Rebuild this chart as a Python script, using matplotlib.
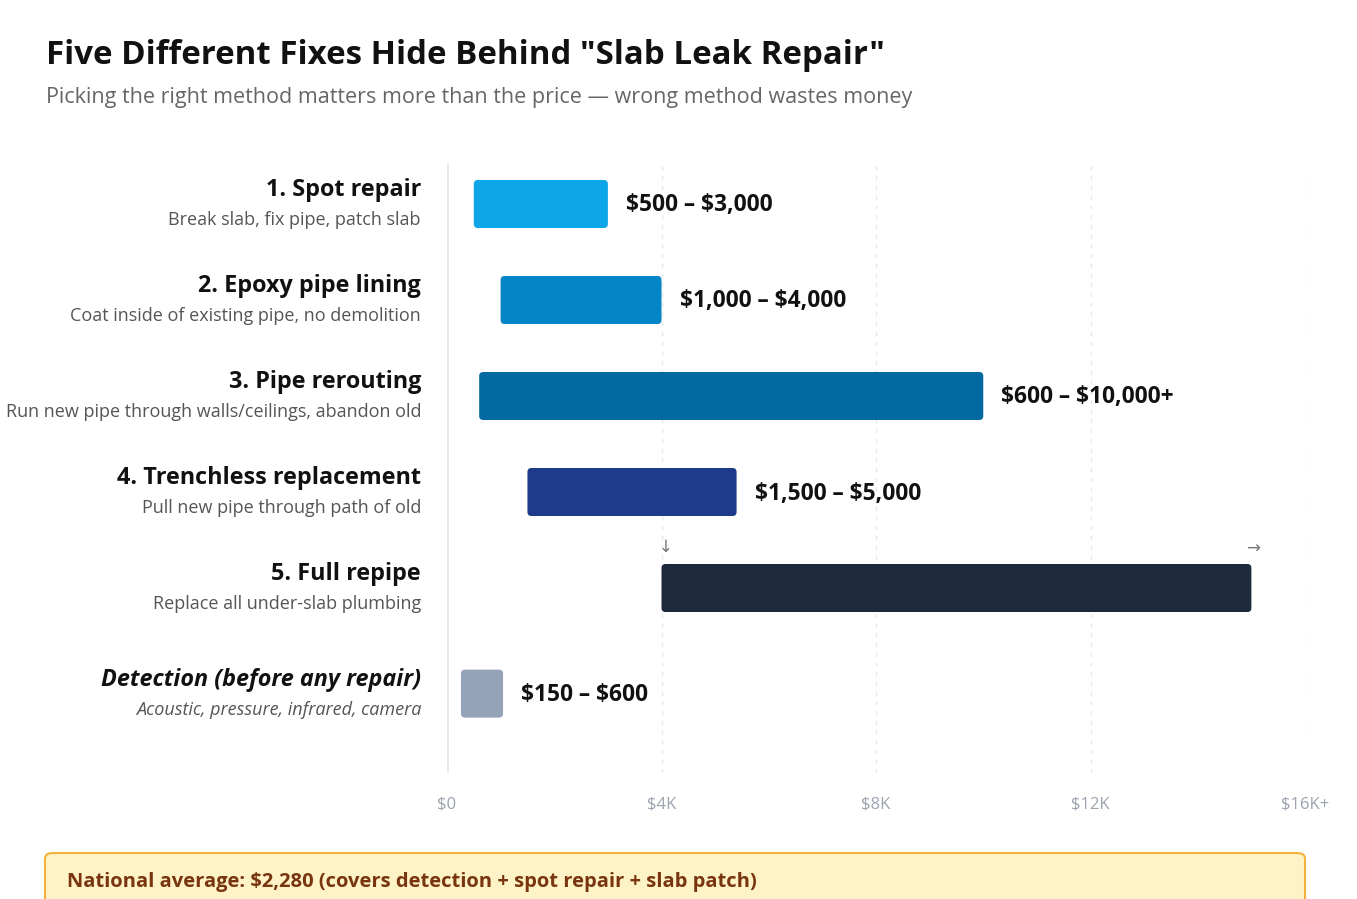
import matplotlib.pyplot as plt
from matplotlib.patches import FancyBboxPatch
import numpy as np

plt.rcParams['font.family'] = ['Open Sans', 'DejaVu Sans']
plt.rcParams['text.parse_math'] = False

# Data
methods = ["1. Spot repair", "2. Epoxy pipe lining", "3. Pipe rerouting",
           "4. Trenchless replacement", "5. Full repipe", "Detection (before any repair)"]
notes = ["Break slab, fix pipe, patch slab", "Coat inside of existing pipe, no demolition",
         "Run new pipe through walls/ceilings, abandon old", "Pull new pipe through path of old",
         "Replace all under-slab plumbing", "Acoustic, pressure, infrared, camera"]
low = [500, 1000, 600, 1500, 4000, 260]
high = [3000, 4000, 10000, 5400, 15000, 1045]
price_labels = ["$500 – $3,000", "$1,000 – $4,000", "$600 – $10,000+",
                "$1,500 – $5,000", "", "$150 – $600"]
colors = ["#0EA5E9", "#0284C7", "#0369A1", "#1E3A8A", "#1E293B", "#94A3B8"]
ticks = [0, 4000, 8000, 12000, 16000]
tick_labels = ["$0", "$4K", "$8K", "$12K", "$16K+"]

W, H = 1357, 899
fig = plt.figure(figsize=(W / 100, H / 100), dpi=100)

def fx(x): return x / W
def fy(y): return 1 - y / H

# plot area: $0 at x=447, $16K at x=1305, rows between y=163 and 773
ax = fig.add_axes([fx(447), fy(773), (1305 - 447) / W, (773 - 163) / H])
ax.set_xlim(0, 16000)
ax.set_ylim(5.927, -0.427)
ax.axis('off')

rows = [0, 1, 2, 3, 4, 5.1]
px_x = 16000 / (1305 - 447)   # dollars per pixel
px_y = 1 / 96                 # rows per pixel

for t in ticks[1:]:
    ax.plot([t, t], [5.927, -0.427], color="#E5E7EB", lw=1, ls=(0, (3, 4)), zorder=0)
ax.plot([0, 0], [5.927, -0.427], color="#E5E7EB", lw=2, zorder=1)

bh = 48 * px_y
for i in range(len(methods)):
    r = rows[i]
    p = FancyBboxPatch((low[i], r - bh / 2), high[i] - low[i], bh,
                       boxstyle="round,pad=0,rounding_size=%f" % (4 * px_x),
                       mutation_aspect=px_y / px_x,
                       fc=colors[i], ec="none", zorder=2)
    ax.add_patch(p)
    if price_labels[i]:
        ax.text(high[i] + 18 * px_x, r + 1.5 * px_y, price_labels[i], ha="left", va="center",
                fontsize=16.4, fontweight="bold", color="#111111")
    style = "italic" if i == 5 else "normal"
    ax.text(-26 * px_x, r - 14 * px_y, methods[i], ha="right", va="center",
            fontsize=16.8, fontweight="bold", style=style, color="#111111", clip_on=False)
    ax.text(-26 * px_x, r + 16 * px_y, notes[i], ha="right", va="center",
            fontsize=13, style=style, color="#555555", clip_on=False)

# overflow arrows above the full repipe bar
ax.text(low[4] + 4 * px_x, rows[4] - 40 * px_y, "↓", ha="center", va="center",
        fontsize=12, color="#777777")
ax.text(high[4] + 2 * px_x, rows[4] - 38 * px_y, "→", ha="center", va="center",
        fontsize=12, color="#777777")

for t, lab in zip(ticks, tick_labels):
    ax.text(t, 5.927 + 31 * px_y, lab, ha="center", va="center",
            fontsize=12, color="#9CA3AF", clip_on=False)

fig.text(fx(46), fy(56), 'Five Different Fixes Hide Behind "Slab Leak Repair"',
         ha="left", va="center", fontsize=23.8, fontweight="bold", color="#111111")
fig.text(fx(46), fy(98), "Picking the right method matters more than the price — wrong method wastes money",
         ha="left", va="center", fontsize=15.5, color="#666666")

box = FancyBboxPatch((fx(45), fy(930)), fx(1305 - 45), (930 - 853) / H,
                     boxstyle="round,pad=0,rounding_size=0.006",
                     transform=fig.transFigure, fc="#FEF3C7", ec="#F5B23B", lw=1.5)
fig.patches.append(box)
fig.text(fx(67), fy(882), "National average: $2,280 (covers detection + spot repair + slab patch)",
         ha="left", va="center", fontsize=14.5, fontweight="bold", color="#78350F")

fig.savefig("out.png", dpi=100)
